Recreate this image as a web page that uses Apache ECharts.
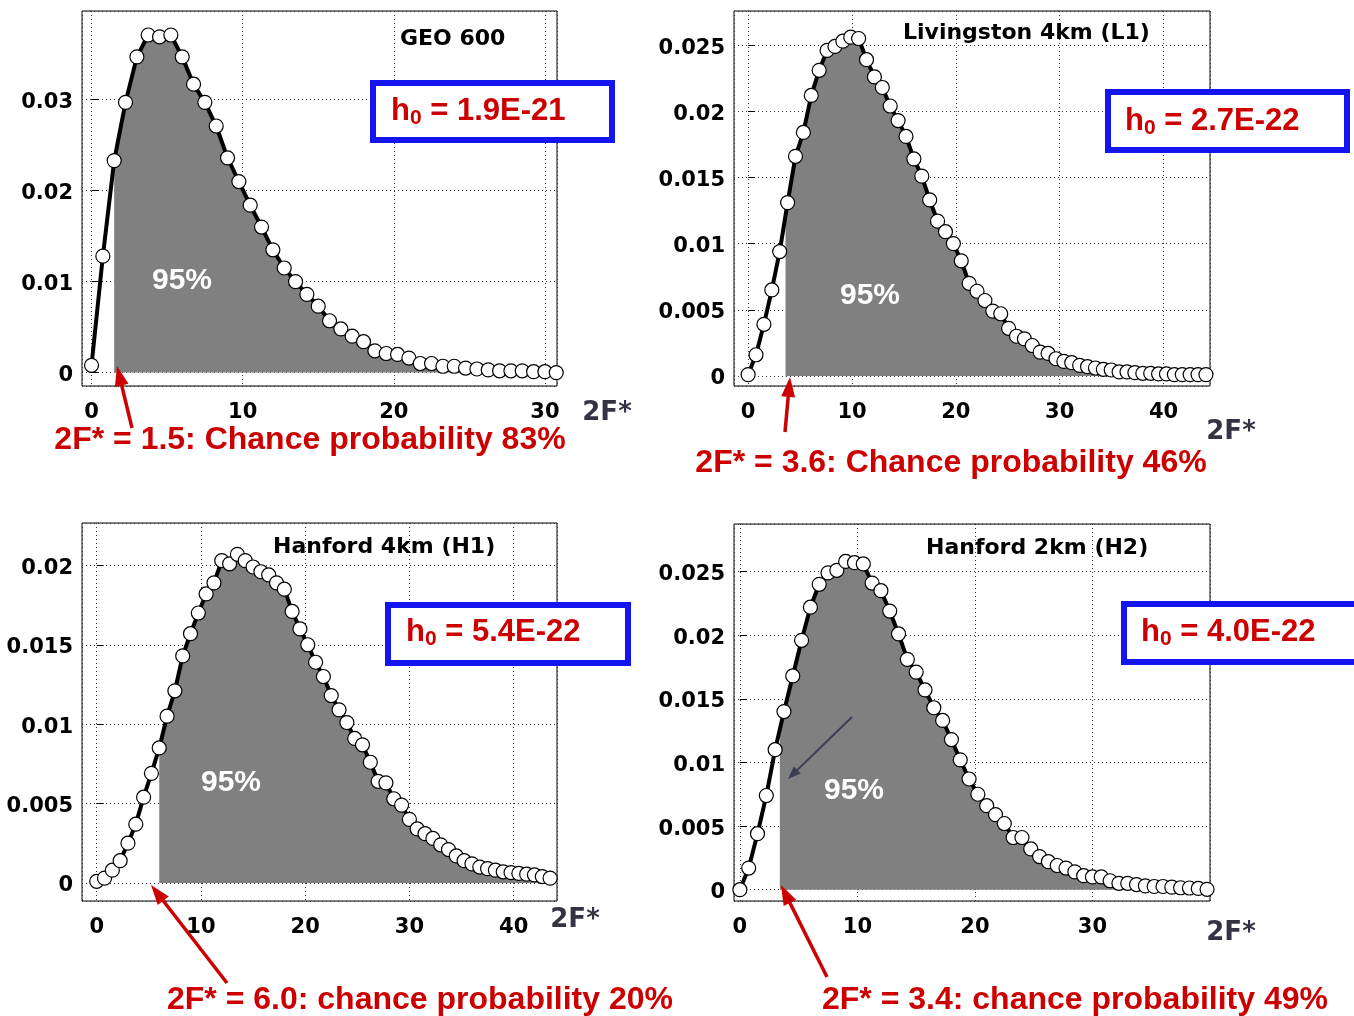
<!DOCTYPE html>
<html>
<head>
<meta charset="utf-8">
<script src="https://cdn.jsdelivr.net/npm/echarts@6/dist/echarts.min.js"></script>
<style>
html, body { margin: 0; padding: 0; background: #fff; }
#main { width: 1354px; height: 1016px; }
</style>
</head>
<body>
<div id="main"></div>
<script>
// GEO 600
var geoX = [0, 0.75, 1.5, 2.25, 3, 3.75, 4.5, 5.25, 6, 6.75, 7.5, 8.25, 9, 9.75, 10.5, 11.25, 12, 12.75, 13.5, 14.25,
	15, 15.75, 16.5, 17.25, 18, 18.75, 19.5, 20.25, 21, 21.75, 22.5, 23.25, 24, 24.75, 25.5, 26.25, 27, 27.75, 28.5, 29.25,
	30, 30.75];
var geoY = [0.0008, 0.0128, 0.0233, 0.0297, 0.0347, 0.0371, 0.0369, 0.0371, 0.0347, 0.0317, 0.0297, 0.0271, 0.0236, 0.0210,
	0.0184, 0.0160, 0.0135, 0.0115, 0.0100, 0.0086, 0.0073, 0.0057, 0.0048, 0.0040, 0.0034, 0.0024, 0.0021, 0.0020, 0.0016,
	0.0010, 0.0010, 0.0007, 0.0007, 0.0005, 0.0004, 0.0003, 0.0002, 0.0002, 0.0002, 0.0001, 0.0001, 0.0000];
var geoCut = [1.5, 0.0233];

// Livingston 4km (L1)
var l1X = [0, 0.76, 1.52, 2.28, 3.04, 3.8, 4.56, 5.32, 6.08, 6.84, 7.6, 8.36, 9.12, 9.88, 10.64, 11.4, 12.16, 12.92, 13.68,
	14.44, 15.2, 15.96, 16.72, 17.48, 18.24, 19, 19.76, 20.52, 21.28, 22.04, 22.8, 23.56, 24.32, 25.08, 25.84, 26.6, 27.36,
	28.12, 28.88, 29.64, 30.4, 31.16, 31.92, 32.68, 33.44, 34.2, 34.96, 35.72, 36.48, 37.24, 38, 38.76, 39.52, 40.28, 41.04,
	41.8, 42.56, 43.32, 44.08];
var l1Y = [0.0001, 0.0016, 0.0039, 0.0065, 0.0094, 0.0131, 0.0166, 0.0184, 0.0212, 0.0231, 0.0246, 0.0249, 0.0253, 0.0256,
	0.0255, 0.0239, 0.0226, 0.0218, 0.0204, 0.0193, 0.0181, 0.0164, 0.0151, 0.0133, 0.0117, 0.0109, 0.0100, 0.0087, 0.0070,
	0.0064, 0.0057, 0.0049, 0.0047, 0.0036, 0.0030, 0.0028, 0.0023, 0.0018, 0.0017, 0.0013, 0.0011, 0.0010, 0.0008, 0.0007,
	0.0006, 0.0005, 0.00045, 0.0003, 0.0003, 0.00025, 0.0002, 0.0002, 0.00015, 0.00015, 0.0001, 0.0001, 0.0001, 0.0001, 0.0001];
var l1Cut = [3.6, 0.0126];

// Hanford 4km (H1)
var h1X = [0, 0.75, 1.5, 2.25, 3, 3.75, 4.5, 5.25, 6, 6.75, 7.5, 8.25, 9, 9.75, 10.5, 11.25, 12, 12.75, 13.5, 14.25,
	15, 15.75, 16.5, 17.25, 18, 18.75, 19.5, 20.25, 21, 21.75, 22.5, 23.25, 24, 24.75, 25.5, 26.25, 27, 27.75, 28.5, 29.25,
	30, 30.75, 31.5, 32.25, 33, 33.75, 34.5, 35.25, 36, 36.75, 37.5, 38.25, 39, 39.75, 40.5, 41.25, 42, 42.75, 43.5];
var h1Y = [0.0001, 0.0003, 0.0008, 0.0014, 0.0025, 0.0037, 0.0054, 0.0069, 0.0085, 0.0105, 0.0121, 0.0143, 0.0157, 0.0170,
	0.0182, 0.0189, 0.0203, 0.0201, 0.0207, 0.0203, 0.0199, 0.0196, 0.0194, 0.0189, 0.0185, 0.0171, 0.0160, 0.0150, 0.0139,
	0.0130, 0.0118, 0.0109, 0.0101, 0.0091, 0.0087, 0.0076, 0.0064, 0.0063, 0.0053, 0.0049, 0.0040, 0.0034, 0.0031, 0.0028,
	0.0024, 0.0021, 0.0017, 0.0014, 0.0012, 0.0010, 0.0009, 0.0008, 0.0007, 0.00065, 0.0006, 0.00055, 0.0005, 0.0004, 0.0003];
var h1Cut = [6.0, 0.0085];

// Hanford 2km (H2)
var h2X = [0, 0.75, 1.5, 2.25, 3, 3.75, 4.5, 5.25, 6, 6.75, 7.5, 8.25, 9, 9.75, 10.5, 11.25, 12, 12.75, 13.5, 14.25,
	15, 15.75, 16.5, 17.25, 18, 18.75, 19.5, 20.25, 21, 21.75, 22.5, 23.25, 24, 24.75, 25.5, 26.25, 27, 27.75, 28.5, 29.25,
	30, 30.75, 31.5, 32.25, 33, 33.75, 34.5, 35.25, 36, 36.75, 37.5, 38.25, 39, 39.75];
var h2Y = [0.0000, 0.0017, 0.0044, 0.0074, 0.0110, 0.0140, 0.0168, 0.0196, 0.0222, 0.0240, 0.0249, 0.0251, 0.0258, 0.0257,
	0.0256, 0.0241, 0.0235, 0.0219, 0.0201, 0.0181, 0.0171, 0.0157, 0.0143, 0.0133, 0.0118, 0.0102, 0.0087, 0.0075, 0.0066,
	0.0059, 0.0052, 0.0041, 0.0041, 0.0032, 0.0026, 0.0022, 0.0019, 0.0017, 0.0014, 0.0011, 0.0010, 0.0010, 0.0007, 0.0005,
	0.0005, 0.0004, 0.0003, 0.00025, 0.00025, 0.0002, 0.00015, 0.00013, 0.0001, 0.00003];
var h2Cut = [3.4, 0.0124];

var titles = ['GEO 600', 'Livingston 4km (L1)', 'Hanford 4km (H1)', 'Hanford 2km (H2)'];
var h0Values = ['1.9E-21', '2.7E-22', '5.4E-22', '4.0E-22'];
var captions = [
	'2F* = 1.5: Chance probability 83%',
	'2F* = 3.6: Chance probability 46%',
	'2F* = 6.0: chance probability 20%',
	'2F* = 3.4: chance probability 49%'
];

var RED = '#cc0000';
var BLUE = '#1414f0';

var panels = [
	{ x: geoX, y: geoY, cut: geoCut, grid: [82, 11, 475, 375], xr: [-0.63, 30.8], yr: [-0.00147, 0.03974], xs: 3, ys: 4,
		title: [400, 39], box: [373, 83, 239, 57], h0: [391, 111], pct: [182, 281], fstar: [607, 413], cap: [310, 440],
		arrow: [132, 428, 117, 366] },
	{ x: l1X, y: l1Y, cut: l1Cut, grid: [734, 11, 476, 375], xr: [-1.36, 44.47], yr: [-0.00076, 0.02758], xs: 4, ys: 6,
		title: [903, 33], box: [1108, 92, 239, 58], h0: [1125, 121], pct: [870, 296], fstar: [1231, 432], cap: [951, 463],
		arrow: [785, 432, 790, 377] },
	{ x: h1X, y: h1Y, cut: h1Cut, grid: [82, 523, 475, 378], xr: [-1.41, 44.16], yr: [-0.00114, 0.02267], xs: 4, ys: 5,
		title: [273, 547], box: [388, 605, 240, 58], h0: [406, 632], pct: [231, 783], fstar: [575, 920], cap: [420, 1000],
		arrow: [227, 983, 151, 885] },
	{ x: h2X, y: h2Y, cut: h2Cut, grid: [734, 524, 476, 377], xr: [-0.5, 40], yr: [-0.00089, 0.02874], xs: 4, ys: 6,
		title: [926, 548], box: [1124, 604, 240, 58], h0: [1141, 632], pct: [854, 791], fstar: [1231, 933], cap: [1075, 1000],
		arrow: [827, 977, 781, 885] }
];

function arrow(x1, y1, x2, y2, color, w, hl, hw) {
	var dx = x2 - x1, dy = y2 - y1;
	var len = Math.sqrt(dx * dx + dy * dy);
	var ux = dx / len, uy = dy / len;
	var bx = x2 - ux * hl, by = y2 - uy * hl;
	return [
		{ type: 'line', z: 100, shape: { x1: x1, y1: y1, x2: bx + ux * 2, y2: by + uy * 2 }, style: { stroke: color, lineWidth: w } },
		{ type: 'polygon', z: 100, shape: { points: [[x2, y2], [bx - uy * hw / 2, by + ux * hw / 2], [bx + uy * hw / 2, by - ux * hw / 2]] },
			style: { fill: color } }
	];
}

var grids = [], xAxes = [], yAxes = [], series = [], graphics = [];

panels.forEach(function(p, i) {
	grids.push({
		left: p.grid[0], top: p.grid[1], width: p.grid[2], height: p.grid[3],
		show: true, borderColor: '#000', borderWidth: 1, backgroundColor: 'transparent'
	});
	var split = { show: true, lineStyle: { color: '#333', width: 1, type: [1, 3] } };
	xAxes.push({
		type: 'value', gridIndex: i, min: p.xr[0], max: p.xr[1], splitNumber: p.xs,
		axisLine: { show: false },
		axisTick: { show: true, inside: true, length: 7, lineStyle: { color: '#000' } },
		axisLabel: { show: true, showMinLabel: false, showMaxLabel: false, margin: 16, color: '#000',
			fontFamily: 'DejaVu Sans', fontWeight: 'bold', fontSize: 21 },
		splitLine: split
	});
	yAxes.push({
		type: 'value', gridIndex: i, min: p.yr[0], max: p.yr[1], splitNumber: p.ys,
		axisLine: { show: false },
		axisTick: { show: true, inside: true, length: 7, lineStyle: { color: '#000' } },
		axisLabel: { show: true, showMinLabel: false, showMaxLabel: false, margin: 9, color: '#000',
			verticalAlign: 'top', lineHeight: 6,
			fontFamily: 'DejaVu Sans', fontWeight: 'bold', fontSize: 21 },
		splitLine: split
	});

	var pts = p.x.map(function(x, k) { return [x, p.y[k]]; });
	var fill = [p.cut].concat(pts.filter(function(d) { return d[0] > p.cut[0]; }));

	series.push({
		type: 'line', xAxisIndex: i, yAxisIndex: i, data: fill, showSymbol: false, silent: true,
		lineStyle: { width: 0 }, areaStyle: { color: '#808080', opacity: 1 }, z: 1
	});
	series.push({
		type: 'line', xAxisIndex: i, yAxisIndex: i, data: pts, clip: false, silent: true,
		symbol: 'circle', symbolSize: 14,
		itemStyle: { color: '#fff', borderColor: '#000', borderWidth: 1.2 },
		lineStyle: { color: '#000', width: 4 }, z: 3
	});

	graphics.push({ type: 'text', z: 100, x: p.title[0], y: p.title[1],
		style: { text: titles[i], align: 'left', verticalAlign: 'middle', fill: '#000',
			font: 'bold 22px "DejaVu Sans"' } });
	graphics.push({ type: 'rect', z: 100, shape: { x: p.box[0], y: p.box[1], width: p.box[2], height: p.box[3] },
		style: { fill: '#fff', stroke: BLUE, lineWidth: 6 } });
	graphics.push({ type: 'text', z: 101, x: p.h0[0], y: p.h0[1],
		style: {
			text: '{m|h}{s|0}{m| = ' + h0Values[i] + '}', align: 'left', verticalAlign: 'middle',
			rich: {
				m: { fill: RED, fontFamily: 'Liberation Sans', fontWeight: 'bold', fontSize: 31, lineHeight: 36 },
				s: { fill: RED, fontFamily: 'Liberation Sans', fontWeight: 'bold', fontSize: 21, lineHeight: 16, verticalAlign: 'bottom' }
			}
		} });
	graphics.push({ type: 'text', z: 100, x: p.pct[0], y: p.pct[1],
		style: { text: '95%', align: 'center', verticalAlign: 'middle', fill: '#fff',
			font: 'bold 30px "Liberation Sans"' } });
	graphics.push({ type: 'text', z: 100, x: p.fstar[0], y: p.fstar[1],
		style: { text: '2F*', align: 'center', verticalAlign: 'middle', fill: '#333344',
			font: 'bold 26px "DejaVu Sans"' } });
	graphics.push({ type: 'text', z: 100, x: p.cap[0], y: p.cap[1],
		style: { text: captions[i], align: 'center', verticalAlign: 'middle', fill: RED,
			font: 'bold 32px "Liberation Sans"' } });
	graphics = graphics.concat(arrow(p.arrow[0], p.arrow[1], p.arrow[2], p.arrow[3], RED, 3.5, 20, 14));
});

// small pointer into the H2 fill
graphics = graphics.concat(arrow(852, 717, 788, 779, '#3c3c55', 2, 13, 10));

var chart = echarts.init(document.getElementById('main'));
chart.setOption({
	animation: false,
	backgroundColor: '#fff',
	grid: grids,
	xAxis: xAxes,
	yAxis: yAxes,
	series: series,
	graphic: { elements: graphics }
});
</script>
</body>
</html>
